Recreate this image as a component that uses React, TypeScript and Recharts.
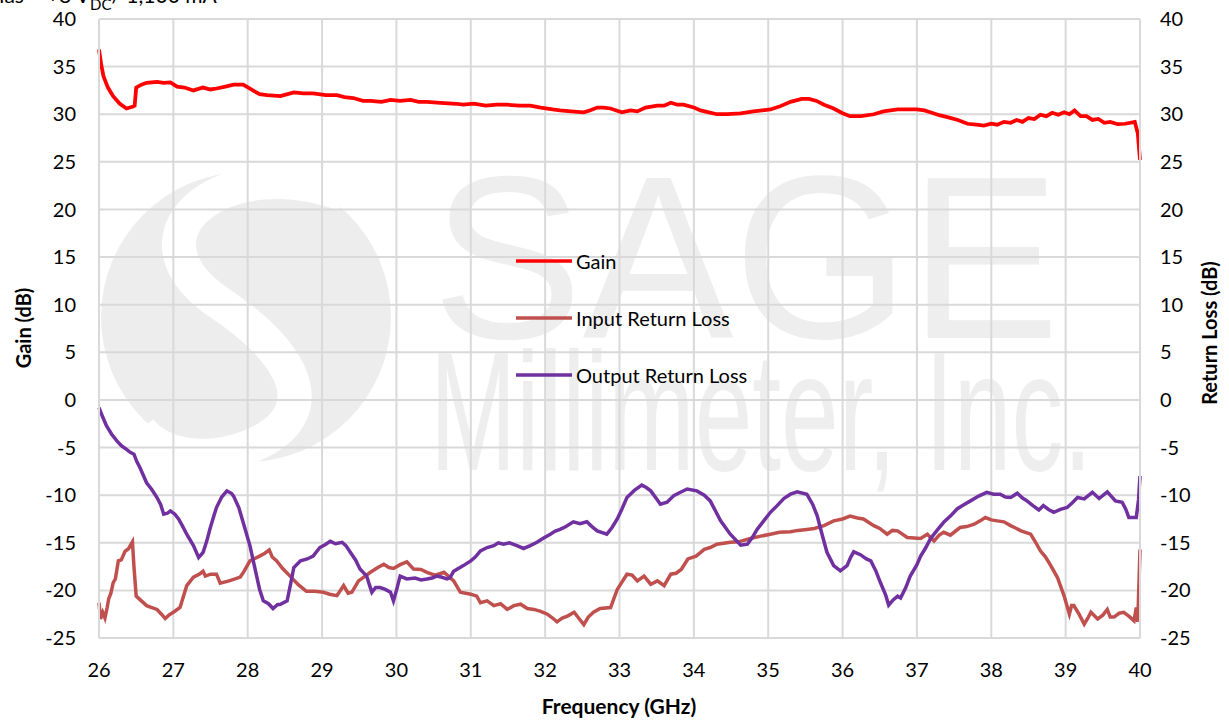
import { LineChart, Line, XAxis, YAxis, CartesianGrid, Legend } from "recharts";

// Frequency (GHz) / value (dB) pairs, one list per series
const gainFreq = [
  26.0, 26.03, 26.06, 26.12, 26.19, 26.28, 26.37, 26.46, 26.48, 26.5, 26.57, 26.64, 26.78, 26.87, 26.96,
  27.05, 27.15, 27.27, 27.4, 27.5, 27.58, 27.7, 27.81, 27.94, 28.07, 28.16, 28.26, 28.44, 28.62, 28.75,
  28.88, 29.05, 29.2, 29.3, 29.42, 29.55, 29.65, 29.8, 29.92, 30.05, 30.19, 30.3, 30.41, 30.59, 30.81,
  30.9, 31.04, 31.2, 31.35, 31.49, 31.65, 31.8, 31.94, 32.1, 32.2, 32.35, 32.52, 32.6, 32.7, 32.79,
  32.88, 33.03, 33.15, 33.24, 33.35, 33.51, 33.6, 33.69, 33.78, 33.86, 34.0, 34.09, 34.2, 34.31, 34.45,
  34.63, 34.8, 34.92, 35.03, 35.15, 35.3, 35.45, 35.55, 35.65, 35.75, 35.88, 36.0, 36.1, 36.25, 36.42,
  36.55, 36.74, 36.9, 37.0, 37.1, 37.18, 37.3, 37.41, 37.55, 37.68, 37.8, 37.9, 38.0, 38.08, 38.17,
  38.26, 38.34, 38.42, 38.5, 38.58, 38.66, 38.74, 38.82, 38.9, 38.98, 39.05, 39.12, 39.2, 39.28, 39.36,
  39.44, 39.52, 39.6, 39.7, 39.8, 39.93, 39.97, 40.0,
];
const gainDb = [
  36.8, 35.2, 34.0, 32.8, 31.9, 31.1, 30.6, 30.8, 30.9, 32.8, 33.1, 33.3, 33.4, 33.3, 33.35,
  32.9, 32.8, 32.5, 32.8, 32.6, 32.7, 32.9, 33.1, 33.1, 32.5, 32.1, 32.0, 31.9, 32.3, 32.2,
  32.2, 32.0, 32.0, 31.8, 31.7, 31.4, 31.4, 31.3, 31.5, 31.4, 31.5, 31.3, 31.3, 31.2, 31.1,
  31.0, 31.1, 30.9, 31.0, 31.0, 30.9, 30.9, 30.7, 30.5, 30.4, 30.3, 30.2, 30.4, 30.7, 30.7,
  30.6, 30.2, 30.4, 30.3, 30.7, 30.9, 30.9, 31.2, 31.0, 31.0, 30.7, 30.4, 30.2, 30.0, 30.0,
  30.1, 30.3, 30.4, 30.5, 30.8, 31.3, 31.6, 31.6, 31.4, 31.0, 30.6, 30.1, 29.8, 29.8, 30.0,
  30.3, 30.5, 30.5, 30.5, 30.4, 30.2, 29.9, 29.7, 29.4, 29.0, 28.9, 28.8, 29.0, 28.9, 29.2,
  29.1, 29.4, 29.2, 29.6, 29.5, 29.95, 29.8, 30.15, 29.95, 30.2, 30.0, 30.4, 29.8, 29.8, 29.4,
  29.5, 29.1, 29.2, 28.95, 29.0, 29.2, 28.0, 25.2,
];

const inputFreq = [
  26.0, 26.02, 26.05, 26.08, 26.11, 26.13, 26.16, 26.19, 26.22, 26.26, 26.3, 26.35, 26.4, 26.42, 26.45,
  26.47, 26.5, 26.57, 26.64, 26.71, 26.78, 26.84, 26.89, 26.94, 27.0, 27.09, 27.14, 27.18, 27.27, 27.35,
  27.4, 27.43, 27.5, 27.58, 27.63, 27.75, 27.9, 27.95, 28.03, 28.16, 28.23, 28.29, 28.33, 28.39, 28.47,
  28.57, 28.68, 28.79, 28.9, 29.02, 29.1, 29.2, 29.29, 29.35, 29.4, 29.49, 29.58, 29.65, 29.75, 29.83,
  29.9, 29.96, 30.05, 30.14, 30.23, 30.33, 30.41, 30.52, 30.64, 30.77, 30.86, 31.0, 31.08, 31.13, 31.22,
  31.31, 31.4, 31.49, 31.58, 31.67, 31.76, 31.85, 31.94, 32.03, 32.1, 32.16, 32.23, 32.3, 32.39, 32.45,
  32.52, 32.58, 32.65, 32.74, 32.88, 32.97, 33.1, 33.17, 33.24, 33.33, 33.42, 33.51, 33.6, 33.69, 33.76,
  33.83, 33.92, 34.03, 34.14, 34.22, 34.31, 34.49, 34.6, 34.76, 34.9, 35.03, 35.15, 35.3, 35.4, 35.52,
  35.62, 35.75, 35.88, 36.0, 36.1, 36.2, 36.28, 36.42, 36.5, 36.6, 36.67, 36.74, 36.87, 36.96, 37.05,
  37.14, 37.23, 37.3, 37.36, 37.45, 37.58, 37.67, 37.77, 37.85, 37.92, 38.0, 38.08, 38.17, 38.26, 38.34,
  38.4, 38.53, 38.6, 38.66, 38.73, 38.8, 38.89, 38.98, 39.05, 39.08, 39.11, 39.18, 39.25, 39.3, 39.34,
  39.43, 39.5, 39.56, 39.6, 39.65, 39.72, 39.78, 39.85, 39.92, 39.95, 39.97, 40.0,
];
const inputDb = [
  -21.3, -23.0, -22.3, -22.9, -21.8, -20.9, -20.3, -19.2, -18.8, -16.9, -16.8, -15.9, -15.6, -15.3, -14.9,
  -17.5, -20.6, -21.1, -21.6, -21.8, -22.0, -22.5, -22.95, -22.6, -22.3, -21.8, -20.5, -19.5, -18.6, -18.3,
  -18.0, -18.5, -18.3, -18.3, -19.25, -19.0, -18.6, -18.0, -16.9, -16.4, -16.1, -15.75, -16.5, -16.9, -17.7,
  -18.5, -19.4, -20.1, -20.1, -20.2, -20.4, -20.55, -19.5, -20.3, -20.2, -19.0, -18.5, -18.1, -17.6, -17.25,
  -17.6, -17.7, -17.3, -17.0, -17.75, -17.8, -18.1, -18.4, -18.1, -19.0, -20.2, -20.4, -20.6, -21.3, -21.1,
  -21.6, -21.4, -22.0, -21.6, -21.45, -21.9, -22.0, -22.2, -22.5, -22.9, -23.3, -22.9, -22.7, -22.3, -22.9,
  -23.6, -22.8, -22.3, -21.9, -21.8, -19.9, -18.3, -18.4, -19.0, -18.5, -19.35, -19.0, -19.5, -18.3, -18.2,
  -17.8, -16.7, -16.4, -15.7, -15.5, -15.15, -14.95, -14.9, -14.55, -14.3, -14.1, -13.9, -13.85, -13.7, -13.6,
  -13.5, -13.2, -12.7, -12.5, -12.2, -12.4, -12.5, -13.2, -13.5, -14.1, -13.7, -13.75, -14.45, -14.5, -14.55,
  -14.1, -14.8, -14.2, -13.9, -14.2, -13.4, -13.3, -13.05, -12.7, -12.35, -12.6, -12.7, -12.8, -13.2, -13.5,
  -13.75, -14.1, -15.0, -15.85, -16.5, -17.4, -18.65, -20.6, -22.5, -21.6, -21.6, -22.5, -23.55, -22.9, -22.3,
  -23.0, -22.6, -22.0, -22.8, -22.8, -22.4, -22.3, -22.7, -23.2, -21.8, -23.3, -15.7,
];

const outputFreq = [
  26.0, 26.05, 26.1, 26.17, 26.24, 26.3, 26.37, 26.42, 26.47, 26.51, 26.55, 26.64, 26.71, 26.78, 26.83,
  26.87, 26.92, 26.96, 27.02, 27.07, 27.12, 27.18, 27.27, 27.34, 27.4, 27.45, 27.49, 27.54, 27.58, 27.65,
  27.72, 27.78, 27.81, 27.88, 27.94, 28.03, 28.1, 28.16, 28.21, 28.28, 28.34, 28.4, 28.44, 28.53, 28.58,
  28.62, 28.71, 28.8, 28.88, 28.97, 29.04, 29.11, 29.18, 29.27, 29.32, 29.38, 29.45, 29.51, 29.6, 29.64,
  29.67, 29.72, 29.78, 29.85, 29.92, 29.96, 30.0, 30.05, 30.14, 30.25, 30.33, 30.41, 30.48, 30.54, 30.6,
  30.68, 30.72, 30.77, 30.81, 30.9, 31.0, 31.06, 31.13, 31.22, 31.31, 31.37, 31.44, 31.52, 31.62, 31.71,
  31.8, 31.89, 31.98, 32.07, 32.13, 32.2, 32.28, 32.38, 32.47, 32.56, 32.63, 32.7, 32.83, 32.9, 32.97,
  33.03, 33.1, 33.2, 33.3, 33.36, 33.42, 33.5, 33.55, 33.64, 33.73, 33.82, 33.91, 34.04, 34.14, 34.22,
  34.3, 34.36, 34.49, 34.63, 34.72, 34.79, 34.85, 34.95, 35.03, 35.12, 35.21, 35.3, 35.39, 35.52, 35.6,
  35.66, 35.72, 35.79, 35.88, 35.97, 36.06, 36.11, 36.15, 36.24, 36.32, 36.38, 36.45, 36.51, 36.58, 36.62,
  36.68, 36.74, 36.78, 36.85, 36.91, 37.0, 37.05, 37.12, 37.18, 37.27, 37.36, 37.45, 37.54, 37.63, 37.72,
  37.83, 37.94, 38.03, 38.12, 38.19, 38.26, 38.35, 38.42, 38.48, 38.56, 38.64, 38.7, 38.77, 38.84, 38.93,
  39.02, 39.09, 39.16, 39.25, 39.36, 39.45, 39.56, 39.67, 39.76, 39.81, 39.85, 39.95, 39.98, 40.0,
];
const outputDb = [
  -0.8, -1.8, -2.7, -3.6, -4.3, -4.8, -5.2, -5.5, -5.7, -6.5, -7.1, -8.7, -9.4, -10.25, -11.0,
  -12.0, -11.9, -11.65, -12.0, -12.5, -13.2, -14.1, -15.3, -16.55, -16.0, -14.8, -13.6, -12.3, -11.3, -10.2,
  -9.55, -9.8, -10.1, -11.3, -12.9, -15.3, -17.8, -19.9, -21.1, -21.4, -21.9, -21.5, -21.45, -21.1, -19.2,
  -17.6, -16.9, -16.7, -16.4, -15.5, -15.2, -14.85, -15.1, -14.95, -15.3, -16.0, -16.8, -17.75, -18.5, -19.5,
  -20.2, -19.7, -19.7, -19.9, -20.2, -21.1, -20.0, -18.5, -18.8, -18.7, -18.9, -18.8, -18.7, -18.5, -18.6,
  -18.8, -18.65, -18.0, -17.8, -17.4, -16.9, -16.5, -15.85, -15.5, -15.3, -15.0, -15.15, -15.0, -15.3, -15.6,
  -15.3, -14.95, -14.5, -14.1, -13.8, -13.6, -13.3, -12.8, -13.0, -12.8, -13.3, -13.75, -14.1, -13.4, -12.5,
  -11.5, -10.25, -9.5, -8.95, -9.2, -9.55, -10.4, -10.95, -10.75, -10.05, -9.7, -9.35, -9.55, -10.0, -10.6,
  -11.8, -12.7, -14.1, -15.25, -15.15, -14.4, -13.6, -12.6, -11.8, -11.1, -10.35, -9.9, -9.65, -9.9, -11.0,
  -12.2, -14.0, -16.0, -17.4, -17.95, -17.4, -16.5, -15.95, -16.25, -16.7, -16.9, -18.0, -19.2, -20.5, -21.55,
  -21.0, -20.6, -20.8, -19.7, -18.5, -17.3, -16.4, -15.5, -14.6, -13.7, -12.85, -12.2, -11.45, -11.0, -10.6,
  -10.1, -9.7, -9.9, -9.9, -10.2, -10.25, -9.8, -10.3, -10.6, -11.1, -11.55, -11.1, -11.5, -11.8, -11.5,
  -11.3, -10.8, -10.25, -10.4, -9.7, -10.35, -9.65, -10.6, -10.75, -11.5, -12.35, -12.35, -10.5, -8.0,
];

const freqTicks = [26, 27, 28, 29, 30, 31, 32, 33, 34, 35, 36, 37, 38, 39, 40];
const dbTicks = [-25, -20, -15, -10, -5, 0, 5, 10, 15, 20, 25, 30, 35, 40];
const minorFreqTicks = Array.from({ length: 71 }, (_, i) => 26 + i * 0.2);
const minorDbTicks = Array.from({ length: 66 }, (_, i) => -25 + i);

const toRows = (f: number[], v: number[]) => f.map((x, i) => ({ f: x, v: v[i] }));
const gainRows = toRows(gainFreq, gainDb);
const inputRows = toRows(inputFreq, inputDb);
const outputRows = toRows(outputFreq, outputDb);

const FONT = "Lato, 'Noto Sans', sans-serif";
const GRID = "#d9d9d9";

function LegendBox({ payload }: { payload?: Array<{ value: string; color: string }> }) {
  if (!payload) return null;
  return (
    <div>
      {payload.map((p) => (
        <div key={p.value} style={{ display: "flex", alignItems: "center", height: 57 }}>
          <svg width={56} height={6}>
            <line x1={0} y1={3} x2={56} y2={3} stroke={p.color} strokeWidth={3.5} />
          </svg>
          <span style={{ marginLeft: 4, fontSize: 20, fontFamily: FONT, color: "#000" }}>{p.value}</span>
        </div>
      ))}
    </div>
  );
}

function Watermark() {
  return (
    <svg width={1229} height={721} style={{ position: "absolute", left: 0, top: 0 }}>
      <circle cx={246} cy={317} r={145} fill="#ededed" />
      <path
        d="M 345 195 C 230 150, 120 230, 215 300 C 300 355, 330 420, 240 450 C 200 462, 160 455, 140 430"
        fill="none"
        stroke="#fff"
        strokeWidth={34}
      />
      <text
        x={432}
        y={338}
        fontFamily="'Liberation Sans', Arial, sans-serif"
        fontSize={232}
        fill="#eeeeee"
        textLength={628}
        lengthAdjust="spacingAndGlyphs"
      >
        SAGE
      </text>
      <text
        x={430}
        y={470}
        fontFamily="'Liberation Sans', Arial, sans-serif"
        fontSize={168}
        fill="#eeeeee"
        textLength={662}
        lengthAdjust="spacingAndGlyphs"
      >
        Millimeter, Inc.
      </text>
    </svg>
  );
}

function Labels() {
  return (
    <svg width={1229} height={721} style={{ position: "absolute", left: 0, top: 0, pointerEvents: "none" }}>
      <text x={-14} y={3} fontFamily={FONT} fontSize={21} fill="#000">
        Bias = +8 V
        <tspan fontSize={15} dy={7}>DC</tspan>
        <tspan dy={-7}>/ 1,100 mA</tspan>
      </text>
      <text
        x={0}
        y={0}
        transform="translate(31 328) rotate(-90)"
        textAnchor="middle"
        fontFamily={FONT}
        fontWeight="bold"
        fontSize={20}
        fill="#000"
      >
        Gain (dB)
      </text>
      <text
        x={0}
        y={0}
        transform="translate(1217 333) rotate(-90)"
        textAnchor="middle"
        fontFamily={FONT}
        fontWeight="bold"
        fontSize={20}
        fill="#000"
      >
        Return Loss (dB)
      </text>
      <text x={619} y={714} textAnchor="middle" fontFamily={FONT} fontWeight="bold" fontSize={21} fill="#000">
        Frequency (GHz)
      </text>
    </svg>
  );
}

export default function App() {
  const tickStyle = { fontSize: 20, fontFamily: FONT, fill: "#000" };
  return (
    <div style={{ position: "absolute", left: 0, top: 0, width: 1229, height: 721, background: "#fff", overflow: "hidden" }}>
      <Watermark />
      <div style={{ position: "absolute", left: 0, top: 0 }}>
        <LineChart width={1229} height={721} margin={{ top: 19, right: 29, bottom: 0, left: 39 }}>
          <CartesianGrid stroke={GRID} strokeWidth={2} yAxisId="left" />
          <XAxis
            type="number"
            dataKey="f"
            domain={[26, 40]}
            ticks={freqTicks}
            interval={0}
            height={83}
            tick={tickStyle}
            tickLine={false}
            tickSize={0}
            tickMargin={25}
            axisLine={{ stroke: GRID, strokeWidth: 2 }}
          />
          <XAxis
            xAxisId="minor"
            type="number"
            dataKey="f"
            domain={[26, 40]}
            allowDataOverflow
            ticks={minorFreqTicks}
            interval={0}
            mirror
            tick={false}
            tickSize={5}
            tickLine={{ stroke: "#cfcfcf", strokeWidth: 1.5 }}
            axisLine={false}
          />
          <YAxis
            yAxisId="left"
            domain={[-25, 40]}
            ticks={dbTicks}
            interval={0}
            width={60}
            tick={tickStyle}
            tickLine={false}
            tickSize={0}
            tickMargin={23}
            axisLine={{ stroke: GRID, strokeWidth: 2 }}
          />
          <YAxis
            yAxisId="right"
            orientation="right"
            domain={[-25, 40]}
            ticks={dbTicks}
            interval={0}
            width={60}
            tick={{ ...tickStyle, textAnchor: "start" }}
            tickLine={false}
            tickSize={0}
            tickMargin={20}
            axisLine={{ stroke: GRID, strokeWidth: 2 }}
          />
          <YAxis
            yAxisId="lminor"
            domain={[-25, 40]}
            allowDataOverflow
            ticks={minorDbTicks}
            interval={0}
            mirror
            tick={false}
            tickSize={5}
            tickLine={{ stroke: "#cfcfcf", strokeWidth: 1.5 }}
            axisLine={false}
          />
          <YAxis
            yAxisId="rminor"
            orientation="right"
            domain={[-25, 40]}
            allowDataOverflow
            ticks={minorDbTicks}
            interval={0}
            mirror
            tick={false}
            tickSize={5}
            tickLine={{ stroke: "#cfcfcf", strokeWidth: 1.5 }}
            axisLine={false}
          />
          <Legend
            layout="vertical"
            align="center"
            verticalAlign="middle"
            wrapperStyle={{ left: 516, top: 232, width: "auto" }}
            content={<LegendBox />}
          />
          <Line
            data={gainRows}
            yAxisId="left"
            dataKey="v"
            name="Gain"
            stroke="#ff0000"
            strokeWidth={3.75}
            dot={false}
            activeDot={false}
            type="linear"
            isAnimationActive={false}
          />
          <Line
            data={inputRows}
            yAxisId="right"
            dataKey="v"
            name="Input Return Loss"
            stroke="#c0504d"
            strokeWidth={3.5}
            dot={false}
            activeDot={false}
            type="linear"
            isAnimationActive={false}
          />
          <Line
            data={outputRows}
            yAxisId="right"
            dataKey="v"
            name="Output Return Loss"
            stroke="#7030a0"
            strokeWidth={3.5}
            dot={false}
            activeDot={false}
            type="linear"
            isAnimationActive={false}
          />
        </LineChart>
      </div>
      <Labels />
    </div>
  );
}
